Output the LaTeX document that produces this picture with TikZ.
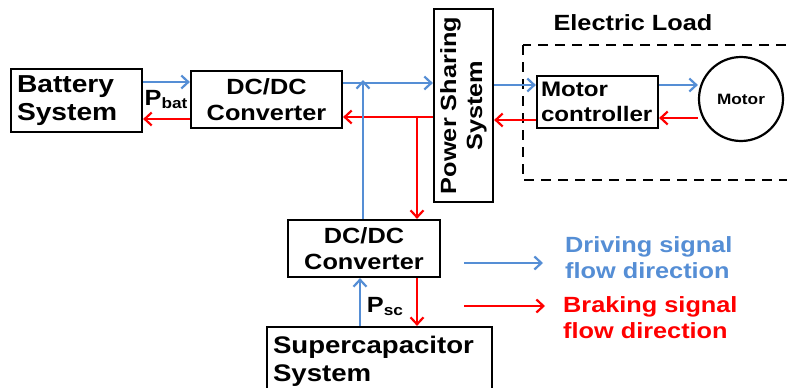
\documentclass[tikz,border=0pt]{standalone}
\usepackage{fontspec}
\setmainfont{Liberation Sans}[FakeStretch=1.15]
\usetikzlibrary{arrows.meta}
\definecolor{drvblue}{RGB}{85,142,213}
\definecolor{brkred}{RGB}{255,0,0}
\tikzset{
  blk/.style={draw, line width=2.2pt, inner sep=0pt, font=\bfseries\fontsize{22}{26}\selectfont},
  lbox/.style={blk, align=left, inner xsep=6pt},
  cbox/.style={blk, align=center},
  arr/.style={line width=2.6pt, -{Straight Barb[length=7pt,width=13pt,line width=2.2pt]}},
  drive/.style={arr, draw=drvblue},
  brake/.style={arr, draw=brkred},
  lbl/.style={font=\bfseries\fontsize{22}{26}\selectfont, inner sep=0pt},
  big/.style={font=\bfseries\fontsize{24.5}{28}\selectfont},
}
\begin{document}
\begin{tikzpicture}[x=1pt,y=-1pt]
\useasboundingbox (0,0) rectangle (787,388);
\clip (0,0) rectangle (787,388);
\fill[white] (0,0) rectangle (787,388);

% blocks
\node[lbox, big, minimum width=131pt, minimum height=63pt, text width=119pt] (bat) at (76.5,100.5) {Battery\\System};
\node[cbox, minimum width=151pt, minimum height=57pt] (dc1) at (266.5,99.5) {DC/DC\\Converter};
\node[cbox, minimum width=59pt, minimum height=193pt] (ps) at (463.5,105.5) {};
\node[lbl, rotate=90, align=center] (pstxt) at (463.5,105.5) {Power Sharing\\System};
\node[lbox, font=\bfseries\fontsize{21}{25}\selectfont, minimum width=121pt, minimum height=52pt, text width=113pt, inner xsep=4pt] (mc) at (597.5,102) {Motor\\controller};
\node[draw, circle, line width=2.2pt, minimum size=84pt, inner sep=0pt, font=\bfseries\fontsize{15}{18}\selectfont] (mot) at (741,99) {Motor};
\node[cbox, minimum width=152pt, minimum height=57pt] (dc2) at (364,248.5) {DC/DC\\Converter};
\node[lbox, big, font=\bfseries\fontsize{24}{28}\selectfont, minimum width=225pt, minimum height=68pt, text width=213pt] (sc) at (379.5,361) {Supercapacitor\\System};

% electric load
\coordinate (elA) at (523,45);
\coordinate (elB) at (800,180);
\draw[line width=2.4pt, dash pattern=on 10pt off 7pt] (elA) rectangle (elB);
\node[lbl] (eltxt) at (633,23) {Electric Load};

% connectors
\draw[drive] ([yshift=18.5pt]bat.east) -- ([yshift=18.5pt]bat.east -| dc1.west);
\draw[brake] ([yshift=-18.5pt]bat.east -| dc1.west) -- ([yshift=-18.5pt]bat.east);
\draw[drive] ([yshift=16.5pt]dc1.east) -- ([yshift=16.5pt]dc1.east -| ps.west);
\draw[brake] ([yshift=-17.5pt]dc1.east -| ps.west) -- ([yshift=-17.5pt]dc1.east);
\coordinate (jb) at (363,80);
\coordinate (jr) at (417,117);
\draw[drive] (dc2.north -| jb) -- (jb);
\draw[brake] (jr) -- (jr |- dc2.north);
\draw[drive] ([yshift=17pt]mc.west -| ps.east) -- ([yshift=17pt]mc.west);
\draw[brake] ([yshift=-18pt]mc.west) -- ([yshift=-18pt]mc.west -| ps.east);
\draw[drive] ([yshift=17pt]mc.east) -- ([yshift=17pt]mc.east -| mot.west);
\draw[brake] ([yshift=-16pt]mc.east -| mot.west) -- ([yshift=-16pt]mc.east);
\coordinate (scb) at (360,327);
\draw[drive] (sc.north -| scb) -- (dc2.south -| scb);
\draw[brake] (dc2.south -| jr) -- (sc.north -| jr);

% labels
\node[lbl] (pbat) at (166,100) {P{\fontsize{15}{15}\selectfont\raisebox{-3pt}{bat}}};
\node[lbl] (psc) at (385,307) {P{\fontsize{15}{15}\selectfont\raisebox{-3pt}{sc}}};

% legend
\coordinate (lg1a) at (464,263);
\coordinate (lg1b) at (543,263);
\coordinate (lg2a) at (464,306);
\coordinate (lg2b) at (545,306);
\draw[drive] (lg1a) -- (lg1b);
\draw[brake] (lg2a) -- (lg2b);
\node[lbl, text=drvblue, anchor=west, align=left] (lgd) at (565,258) {Driving signal\\flow direction};
\node[lbl, text=brkred, anchor=west, align=left] (lgb) at (563,318) {Braking signal\\flow direction};
\end{tikzpicture}
\end{document}
